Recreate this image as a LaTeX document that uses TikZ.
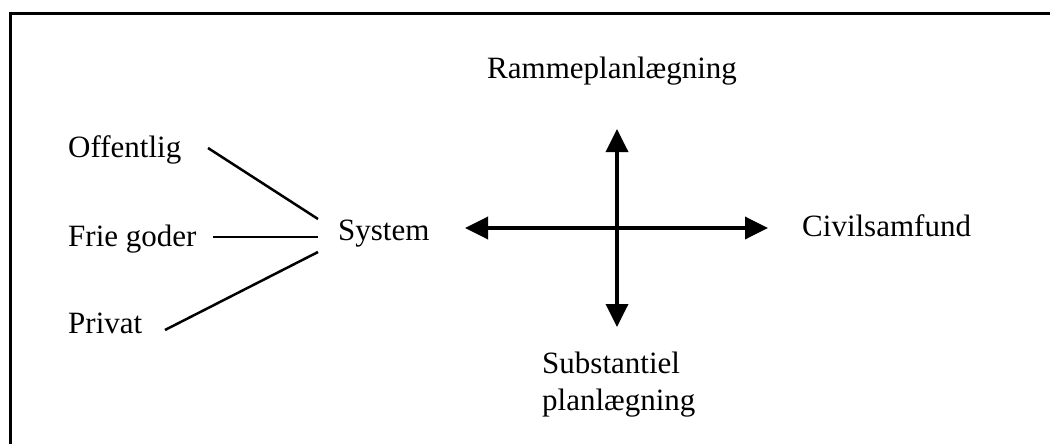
\documentclass[tikz,border=0pt]{standalone}
\usepackage{fontspec}
\setmainfont{Liberation Serif}
\usetikzlibrary{arrows.meta}
\begin{document}
\begin{tikzpicture}[x=1pt,y=-1pt,
  label/.style={anchor=base west,inner sep=0pt,font=\fontsize{31}{37}\selectfont},
  link/.style={line width=2.5pt},
  axis/.style={line width=3.6pt,{Triangle[length=23pt,width=22pt]}-{Triangle[length=23pt,width=22pt]}}]
  \useasboundingbox (0,0) rectangle (1050,444);
  \clip (0,0) rectangle (1050,444);
  % open frame (left and top edges)
  \draw[line width=2.8pt] (10.5,470) -- (10.5,13.5) -- (1070,13.5);
  % left-hand labels
  \node[label] (off) at (68,157) {Offentlig};
  \node[label] (frie) at (68,246) {Frie goder};
  \node[label] (priv) at (68,333) {Privat};
  \node[label] (sys) at (338,240) {System};
  % axis labels
  \node[label] (ramme) at (487,78) {Rammeplanlægning};
  \node[label] (civil) at (802,236) {Civilsamfund};
  % two-line label: base anchor sits on its last line
  \node[label,align=left] (subst) at (542,410) {Substantiel\\planlægning};
  % connector end points
  \coordinate (offEnd) at (208,148);
  \coordinate (frieEnd) at (213,237);
  \coordinate (privEnd) at (165,330);
  \coordinate (hubA) at (318,219);
  \coordinate (hubB) at (318,237);
  \coordinate (hubC) at (318,252);
  \draw[link] (offEnd) -- (hubA);
  \draw[link] (frieEnd) -- (hubB);
  \draw[link] (privEnd) -- (hubC);
  % the cross of arrows
  \coordinate (west) at (465,228);
  \coordinate (east) at (768,228);
  \coordinate (north) at (617,129);
  \coordinate (south) at (617,327);
  \draw[axis] (west) -- (east);
  \draw[axis] (north) -- (south);
\end{tikzpicture}
\end{document}
